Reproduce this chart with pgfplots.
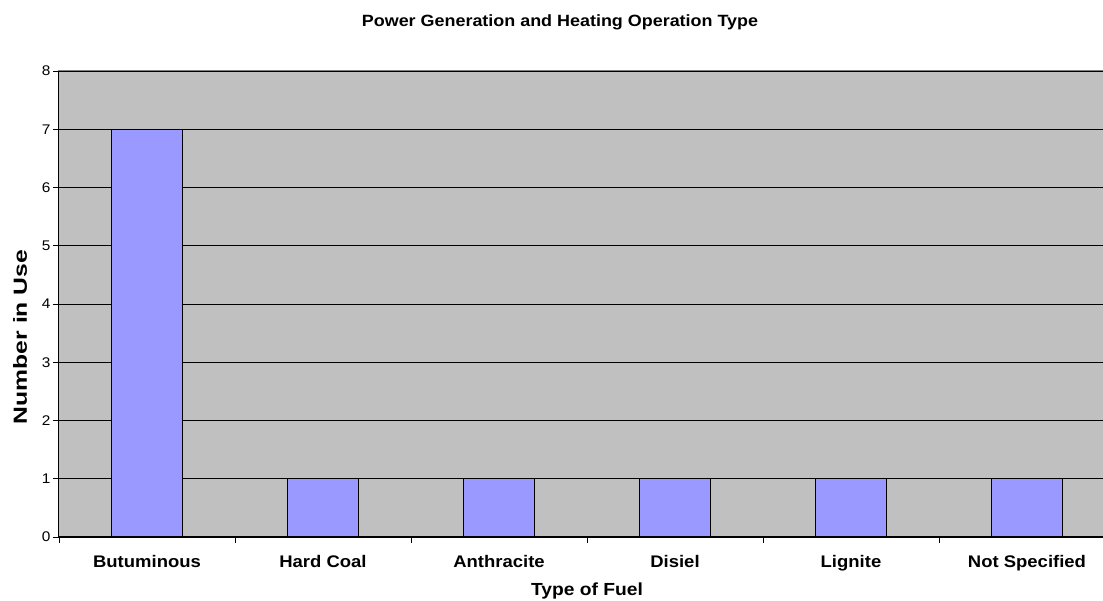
\documentclass[border=0pt]{standalone}
\usepackage{pgfplots}
\pgfplotsset{compat=1.18}
\usepackage{fontspec}
\setmainfont[FakeStretch=1.1]{Liberation Sans}
\newfontfamily\ylabfont[FakeStretch=1.3]{Liberation Sans}
\definecolor{plotgray}{HTML}{C0C0C0}
\definecolor{barblue}{HTML}{9999FF}
\begin{document}
\begin{tikzpicture}
% picture window: the plot area runs past the right edge, as in the reference
\path[use as bounding box] (-59pt,-64pt) rectangle (1044pt,537pt);
\begin{axis}[
    at={(0pt,0pt)}, anchor=south west,
    scale only axis,
    width=1056pt, height=466pt,
    ybar, bar width=0.4,
    xmin=-0.5, xmax=5.5,
    ymin=0, ymax=8,
    ytick={0,...,8},
    xtick={0,...,5},
    xticklabels={Butuminous,Hard Coal,Anthracite,Disiel,Lignite,Not Specified},
    minor xtick={-0.5,0.5,...,5.5},
    major x tick style={draw=none},
    tick pos=left, tick align=outside,
    major tick length=6pt, minor tick length=6pt,
    tick style={black, line width=0.8pt},
    ymajorgrids=true,
    grid style={black, line width=0.8pt},
    axis background/.style={fill=plotgray},
    axis line style={draw=gray, line width=1pt},
    /pgf/number format/assume math mode=true,
    yticklabel style={font=\fontsize{14}{16}\selectfont, xshift=1pt},
    xticklabel style={font=\fontsize{16.8}{20}\selectfont\bfseries, anchor=base, yshift=-25pt},
    clip=false,
]
\addplot[fill=barblue, draw=black, line width=1pt] coordinates {
    (0,7) (1,1) (2,1) (3,1) (4,1) (5,1)
};
\draw[black, line width=1pt] (rel axis cs:0,1) -- (rel axis cs:0,0) -- (rel axis cs:1,0);
\end{axis}
\node[font=\fontsize{16.3}{19}\selectfont\bfseries] at (501pt,515pt) {Power Generation and Heating Operation Type};
\node[font=\fontsize{17.5}{20}\selectfont\bfseries] at (528pt,-54pt) {Type of Fuel};
\node[font=\ylabfont\fontsize{19}{22}\selectfont\bfseries, rotate=90] at (-39pt,200pt) {Number in Use};
\end{tikzpicture}
\end{document}
